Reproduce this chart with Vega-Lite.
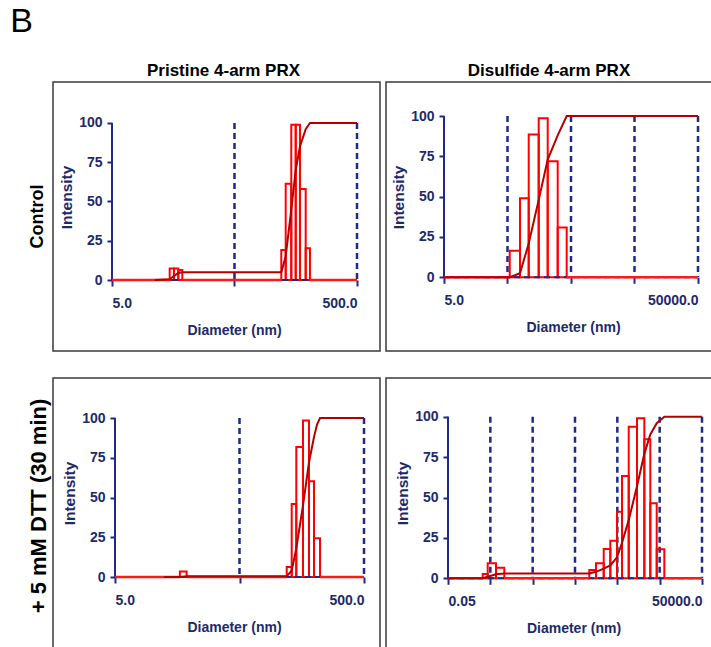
{
  "$schema": "https://vega.github.io/schema/vega-lite/v6.json",
  "background": "white",
  "padding": {"left": 10, "top": 5, "right": 0, "bottom": 0},
  "title": {"text": "B", "anchor": "start", "fontSize": 34, "fontWeight": "normal", "dx": -18, "offset": 22, "color": "black"},
  "config": {
    "font": "Liberation Sans",
    "view": {"stroke": "#3a3a3a", "strokeWidth": 1.5},
    "axis": {"domain": false, "grid": false, "labelFont": "Liberation Sans", "labelFontSize": 14, "labelFontWeight": "bold", "labelColor": "#1c2a6b", "titleFont": "Liberation Sans", "titleFontSize": 14, "titleFontWeight": "bold", "titleColor": "#1c2a6b", "tickColor": "#1d2a8a", "tickWidth": 2},
    "title": {"font": "Liberation Sans", "fontSize": 17, "fontWeight": "bold", "color": "black"}
  },
  "datasets": {
    "grid": [
      {"p": "TL", "x": 50}, {"p": "TL", "x": 500},
      {"p": "TR", "x": 50}, {"p": "TR", "x": 500}, {"p": "TR", "x": 5000}, {"p": "TR", "x": 50000},
      {"p": "BL", "x": 50}, {"p": "BL", "x": 500},
      {"p": "BR", "x": 0.5}, {"p": "BR", "x": 5}, {"p": "BR", "x": 50}, {"p": "BR", "x": 500}, {"p": "BR", "x": 5000}, {"p": "BR", "x": 50000}
    ],
    "frame": [
      {"p": "TL", "x": 5, "xe": 500},
      {"p": "TR", "x": 5, "xe": 50000},
      {"p": "BL", "x": 5, "xe": 500},
      {"p": "BR", "x": 0.05, "xe": 50000}
    ],
    "base": [
      {"p": "TL", "x": 5, "xe": 14.79}, {"p": "TL", "x": 18.75, "xe": 120.5}, {"p": "TL", "x": 206.6, "xe": 500},
      {"p": "TR", "x": 5, "xe": 54.2}, {"p": "TR", "x": 427.7, "xe": 50000},
      {"p": "BL", "x": 5, "xe": 16.6}, {"p": "BL", "x": 18.8, "xe": 119.7}, {"p": "BL", "x": 221.6, "xe": 500},
      {"p": "BR", "x": 0.05, "xe": 0.33}, {"p": "BR", "x": 1.069, "xe": 108.9}, {"p": "BR", "x": 6440, "xe": 50000}
    ],
    "bars": [
      {"p": "TL", "x": 14.79, "xe": 16.03, "y": 7.4},
      {"p": "TL", "x": 16.03, "xe": 17.39, "y": 7.4},
      {"p": "TL", "x": 17.39, "xe": 18.75, "y": 6.4},
      {"p": "TL", "x": 120.5, "xe": 130.9, "y": 19.1},
      {"p": "TL", "x": 130.9, "xe": 145.4, "y": 61.3},
      {"p": "TL", "x": 145.4, "xe": 158.0, "y": 98.9},
      {"p": "TL", "x": 158.0, "xe": 171.2, "y": 98.9},
      {"p": "TL", "x": 171.2, "xe": 190.6, "y": 57.9},
      {"p": "TL", "x": 190.6, "xe": 206.6, "y": 20.2},
      {"p": "TR", "x": 54.2, "xe": 78.7, "y": 16.5},
      {"p": "TR", "x": 78.7, "xe": 107.9, "y": 49.0},
      {"p": "TR", "x": 107.9, "xe": 155.0, "y": 88.6},
      {"p": "TR", "x": 155.0, "xe": 214.9, "y": 98.6},
      {"p": "TR", "x": 214.9, "xe": 308.7, "y": 71.9},
      {"p": "TR", "x": 308.7, "xe": 427.7, "y": 30.8},
      {"p": "BL", "x": 16.6, "xe": 18.8, "y": 3.5},
      {"p": "BL", "x": 119.7, "xe": 131.3, "y": 6.3},
      {"p": "BL", "x": 131.3, "xe": 142.9, "y": 45.9},
      {"p": "BL", "x": 142.9, "xe": 161.8, "y": 81.8},
      {"p": "BL", "x": 161.8, "xe": 180.7, "y": 98.5},
      {"p": "BL", "x": 180.7, "xe": 198.3, "y": 60.3},
      {"p": "BL", "x": 198.3, "xe": 221.6, "y": 24.4},
      {"p": "BR", "x": 0.330, "xe": 0.433, "y": 2.7},
      {"p": "BR", "x": 0.433, "xe": 0.681, "y": 9.3},
      {"p": "BR", "x": 0.681, "xe": 1.069, "y": 6.6},
      {"p": "BR", "x": 108.9, "xe": 156.8, "y": 5.2},
      {"p": "BR", "x": 156.8, "xe": 238.4, "y": 9.3},
      {"p": "BR", "x": 238.4, "xe": 341.4, "y": 18.1},
      {"p": "BR", "x": 341.4, "xe": 491.3, "y": 23.3},
      {"p": "BR", "x": 491.3, "xe": 644.9, "y": 41.2},
      {"p": "BR", "x": 644.9, "xe": 928.4, "y": 63.3},
      {"p": "BR", "x": 928.4, "xe": 1458, "y": 93.8},
      {"p": "BR", "x": 1458, "xe": 2170, "y": 99},
      {"p": "BR", "x": 2170, "xe": 3006, "y": 86},
      {"p": "BR", "x": 3006, "xe": 4259, "y": 46.4},
      {"p": "BR", "x": 4259, "xe": 6440, "y": 17.9}
    ],
    "cum": [
      {"p": "TL", "x": 11.2, "y": 0}, {"p": "TL", "x": 14.8, "y": 0.5}, {"p": "TL", "x": 16.0, "y": 2.5}, {"p": "TL", "x": 17.4, "y": 4.5}, {"p": "TL", "x": 18.75, "y": 5}, {"p": "TL", "x": 120.5, "y": 5}, {"p": "TL", "x": 130.9, "y": 15}, {"p": "TL", "x": 145.4, "y": 45}, {"p": "TL", "x": 158, "y": 70}, {"p": "TL", "x": 171.2, "y": 85}, {"p": "TL", "x": 190.6, "y": 96}, {"p": "TL", "x": 206.6, "y": 100}, {"p": "TL", "x": 500, "y": 100},
      {"p": "TR", "x": 5, "y": 0}, {"p": "TR", "x": 54.2, "y": 0}, {"p": "TR", "x": 78.7, "y": 2.5}, {"p": "TR", "x": 107.9, "y": 21}, {"p": "TR", "x": 155, "y": 48}, {"p": "TR", "x": 214.9, "y": 73}, {"p": "TR", "x": 308.7, "y": 88}, {"p": "TR", "x": 427.7, "y": 100}, {"p": "TR", "x": 50000, "y": 100},
      {"p": "BL", "x": 12.4, "y": 0}, {"p": "BL", "x": 16.6, "y": 0}, {"p": "BL", "x": 18.8, "y": 0.5}, {"p": "BL", "x": 119.7, "y": 0.5}, {"p": "BL", "x": 131.3, "y": 4}, {"p": "BL", "x": 142.9, "y": 18}, {"p": "BL", "x": 161.8, "y": 45}, {"p": "BL", "x": 180.7, "y": 72}, {"p": "BL", "x": 198.3, "y": 88}, {"p": "BL", "x": 210, "y": 96}, {"p": "BL", "x": 221.6, "y": 100}, {"p": "BL", "x": 500, "y": 100},
      {"p": "BR", "x": 0.05, "y": 0}, {"p": "BR", "x": 0.33, "y": 0}, {"p": "BR", "x": 0.433, "y": 1}, {"p": "BR", "x": 0.681, "y": 2.5}, {"p": "BR", "x": 1.069, "y": 3}, {"p": "BR", "x": 108.9, "y": 3}, {"p": "BR", "x": 156.8, "y": 4}, {"p": "BR", "x": 238.4, "y": 6}, {"p": "BR", "x": 341.4, "y": 8}, {"p": "BR", "x": 491.3, "y": 13}, {"p": "BR", "x": 644.9, "y": 22}, {"p": "BR", "x": 928.4, "y": 36}, {"p": "BR", "x": 1458, "y": 57}, {"p": "BR", "x": 2170, "y": 77}, {"p": "BR", "x": 3006, "y": 89}, {"p": "BR", "x": 4259, "y": 96}, {"p": "BR", "x": 6440, "y": 100}, {"p": "BR", "x": 50000, "y": 100}
    ]
  },
  "spacing": 25,
  "vconcat": [
    {
      "title": {"text": "Control", "orient": "left", "anchor": "middle", "offset": 5, "dx": -10, "fontSize": 18},
      "spacing": 4,
      "hconcat": [
        {
          "width": 327, "height": 269,
          "title": {"text": "Pristine 4-arm PRX", "offset": 2, "dx": 7},
          "encoding": {
            "x": {"field": "x", "type": "quantitative", "scale": {"type": "log", "domain": [1.6502, 770.4], "nice": false},
              "axis": {"orient": "bottom", "offset": -71, "values": [5, 50, 500], "labelExpr": "datum.value == 5 ? '5.0' : datum.value == 500 ? '500.0' : ''", "labelFlush": 70, "tickSize": 6, "labelPadding": 10, "title": "Diameter (nm)", "titleX": 181, "titlePadding": 13}}
          },
          "layer": [
            {"data": {"name": "grid"}, "transform": [{"filter": "datum.p == 'TL'"}], "mark": {"type": "rule", "color": "#1d2a8a", "strokeWidth": 2.5, "strokeDash": [6, 4]},
              "encoding": {"y": {"datum": 100, "type": "quantitative", "scale": {"domain": [-45.22, 126.11], "nice": false, "zero": false}, "axis": {"values": [0, 25, 50, 75, 100], "offset": -59, "title": "Intensity", "titleFontSize": 15.5, "titleY": 115, "tickSize": 5, "labelPadding": 5, "titlePadding": 4, "labelFlush": false}}, "y2": {"datum": 0}}},
            {"data": {"name": "frame"}, "transform": [{"filter": "datum.p == 'TL'"}], "mark": {"type": "rule", "color": "#1d2a8a", "strokeWidth": 2}, "encoding": {"y": {"datum": 0, "type": "quantitative"}, "y2": {"datum": 100}}},
            {"data": {"name": "bars"}, "transform": [{"filter": "datum.p == 'TL'"}], "mark": {"type": "rect", "fill": "white", "fillOpacity": 0, "stroke": "#ff0000", "strokeWidth": 2}, "encoding": {"x2": {"field": "xe"}, "y": {"field": "y", "type": "quantitative"}, "y2": {"datum": 0}}},
            {"data": {"name": "frame"}, "transform": [{"filter": "datum.p == 'TL'"}], "mark": {"type": "rule", "color": "#1d2a8a", "strokeWidth": 2, "strokeDash": [6, 4]}, "encoding": {"x2": {"field": "xe"}, "y": {"datum": 0, "type": "quantitative"}}},
            {"data": {"name": "base"}, "transform": [{"filter": "datum.p == 'TL'"}], "mark": {"type": "rule", "color": "#ff1a1a", "strokeWidth": 2.5}, "encoding": {"x2": {"field": "xe"}, "y": {"datum": 0, "type": "quantitative"}}},
            {"data": {"name": "cum"}, "transform": [{"filter": "datum.p == 'TL'"}], "mark": {"type": "line", "color": "#b40000", "strokeWidth": 2}, "encoding": {"y": {"field": "y", "type": "quantitative"}}}
          ]
        },
        {
          "width": 330, "height": 269,
          "title": {"text": "Disulfide 4-arm PRX", "offset": 2, "dx": -2},
          "encoding": {
            "x": {"field": "x", "type": "quantitative", "scale": {"type": "log", "domain": [0.6105, 96030], "nice": false},
              "axis": {"orient": "bottom", "offset": -73.7, "values": [5, 50, 500, 5000, 50000], "labelExpr": "datum.value == 5 ? '5.0' : datum.value == 50000 ? '50000.0' : ''", "labelFlush": 70, "tickSize": 6, "labelPadding": 10, "title": "Diameter (nm)", "titleX": 187, "titlePadding": 13}}
          },
          "layer": [
            {"data": {"name": "grid"}, "transform": [{"filter": "datum.p == 'TR'"}], "mark": {"type": "rule", "color": "#1d2a8a", "strokeWidth": 2.5, "strokeDash": [6, 4]},
              "encoding": {"y": {"datum": 100, "type": "quantitative", "scale": {"domain": [-45.69, 121.08], "nice": false, "zero": false}, "axis": {"values": [0, 25, 50, 75, 100], "offset": -58, "title": "Intensity", "titleFontSize": 15.5, "titleY": 115, "tickSize": 5, "labelPadding": 5, "titlePadding": 4, "labelFlush": false}}, "y2": {"datum": 0}}},
            {"data": {"name": "frame"}, "transform": [{"filter": "datum.p == 'TR'"}], "mark": {"type": "rule", "color": "#1d2a8a", "strokeWidth": 2}, "encoding": {"y": {"datum": 0, "type": "quantitative"}, "y2": {"datum": 100}}},
            {"data": {"name": "bars"}, "transform": [{"filter": "datum.p == 'TR'"}], "mark": {"type": "rect", "fill": "white", "fillOpacity": 0, "stroke": "#ff0000", "strokeWidth": 2}, "encoding": {"x2": {"field": "xe"}, "y": {"field": "y", "type": "quantitative"}, "y2": {"datum": 0}}},
            {"data": {"name": "frame"}, "transform": [{"filter": "datum.p == 'TR'"}], "mark": {"type": "rule", "color": "#1d2a8a", "strokeWidth": 2, "strokeDash": [6, 4]}, "encoding": {"x2": {"field": "xe"}, "y": {"datum": 0, "type": "quantitative"}}},
            {"data": {"name": "base"}, "transform": [{"filter": "datum.p == 'TR'"}], "mark": {"type": "rule", "color": "#ff1a1a", "strokeWidth": 2.5}, "encoding": {"x2": {"field": "xe"}, "y": {"datum": 0, "type": "quantitative"}}},
            {"data": {"name": "cum"}, "transform": [{"filter": "datum.p == 'TR'"}], "mark": {"type": "line", "color": "#b40000", "strokeWidth": 2}, "encoding": {"y": {"field": "y", "type": "quantitative"}}}
          ]
        }
      ]
    },
    {
      "title": {"text": "+ 5 mM DTT (30 min)", "orient": "left", "anchor": "middle", "offset": 1, "dx": 8, "fontSize": 22},
      "spacing": 4,
      "hconcat": [
        {
          "width": 327, "height": 272,
          "encoding": {
            "x": {"field": "x", "type": "quantitative", "scale": {"type": "log", "domain": [1.5882, 672.1], "nice": false},
              "axis": {"orient": "bottom", "offset": -73, "values": [5, 50, 500], "labelExpr": "datum.value == 5 ? '5.0' : datum.value == 500 ? '500.0' : ''", "labelFlush": 70, "tickSize": 6, "labelPadding": 10, "title": "Diameter (nm)", "titleX": 181, "titlePadding": 13}}
          },
          "layer": [
            {"data": {"name": "grid"}, "transform": [{"filter": "datum.p == 'BL'"}], "mark": {"type": "rule", "color": "#1d2a8a", "strokeWidth": 2.5, "strokeDash": [6, 4]},
              "encoding": {"y": {"datum": 100, "type": "quantitative", "scale": {"domain": [-45.91, 125.16], "nice": false, "zero": false}, "axis": {"values": [0, 25, 50, 75, 100], "offset": -62, "title": "Intensity", "titleFontSize": 15.5, "titleY": 115, "tickSize": 5, "labelPadding": 5, "titlePadding": 4, "labelFlush": false}}, "y2": {"datum": 0}}},
            {"data": {"name": "frame"}, "transform": [{"filter": "datum.p == 'BL'"}], "mark": {"type": "rule", "color": "#1d2a8a", "strokeWidth": 2}, "encoding": {"y": {"datum": 0, "type": "quantitative"}, "y2": {"datum": 100}}},
            {"data": {"name": "bars"}, "transform": [{"filter": "datum.p == 'BL'"}], "mark": {"type": "rect", "fill": "white", "fillOpacity": 0, "stroke": "#ff0000", "strokeWidth": 2}, "encoding": {"x2": {"field": "xe"}, "y": {"field": "y", "type": "quantitative"}, "y2": {"datum": 0}}},
            {"data": {"name": "frame"}, "transform": [{"filter": "datum.p == 'BL'"}], "mark": {"type": "rule", "color": "#1d2a8a", "strokeWidth": 2, "strokeDash": [6, 4]}, "encoding": {"x2": {"field": "xe"}, "y": {"datum": 0, "type": "quantitative"}}},
            {"data": {"name": "base"}, "transform": [{"filter": "datum.p == 'BL'"}], "mark": {"type": "rule", "color": "#ff1a1a", "strokeWidth": 2.5}, "encoding": {"x2": {"field": "xe"}, "y": {"datum": 0, "type": "quantitative"}}},
            {"data": {"name": "cum"}, "transform": [{"filter": "datum.p == 'BL'"}], "mark": {"type": "line", "color": "#b40000", "strokeWidth": 2}, "encoding": {"y": {"field": "y", "type": "quantitative"}}}
          ]
        },
        {
          "width": 330, "height": 272,
          "encoding": {
            "x": {"field": "x", "type": "quantitative", "scale": {"type": "log", "domain": [0.001715, 107080], "nice": false},
              "axis": {"orient": "bottom", "offset": -71.7, "values": [0.05, 0.5, 5, 50, 500, 5000, 50000], "labelExpr": "datum.value == 0.05 ? '0.05' : datum.value == 50000 ? '50000.0' : ''", "labelFlush": 70, "tickSize": 6, "labelPadding": 10, "title": "Diameter (nm)", "titleX": 187.5, "titlePadding": 13}}
          },
          "layer": [
            {"data": {"name": "grid"}, "transform": [{"filter": "datum.p == 'BR'"}], "mark": {"type": "rule", "color": "#1d2a8a", "strokeWidth": 2.5, "strokeDash": [6, 4]},
              "encoding": {"y": {"datum": 100, "type": "quantitative", "scale": {"domain": [-44.37, 123.95], "nice": false, "zero": false}, "axis": {"values": [0, 25, 50, 75, 100], "offset": -62, "title": "Intensity", "titleFontSize": 15.5, "titleY": 115, "tickSize": 5, "labelPadding": 5, "titlePadding": 4, "labelFlush": false}}, "y2": {"datum": 0}}},
            {"data": {"name": "frame"}, "transform": [{"filter": "datum.p == 'BR'"}], "mark": {"type": "rule", "color": "#1d2a8a", "strokeWidth": 2}, "encoding": {"y": {"datum": 0, "type": "quantitative"}, "y2": {"datum": 100}}},
            {"data": {"name": "bars"}, "transform": [{"filter": "datum.p == 'BR'"}], "mark": {"type": "rect", "fill": "white", "fillOpacity": 0, "stroke": "#ff0000", "strokeWidth": 2}, "encoding": {"x2": {"field": "xe"}, "y": {"field": "y", "type": "quantitative"}, "y2": {"datum": 0}}},
            {"data": {"name": "frame"}, "transform": [{"filter": "datum.p == 'BR'"}], "mark": {"type": "rule", "color": "#1d2a8a", "strokeWidth": 2, "strokeDash": [6, 4]}, "encoding": {"x2": {"field": "xe"}, "y": {"datum": 0, "type": "quantitative"}}},
            {"data": {"name": "base"}, "transform": [{"filter": "datum.p == 'BR'"}], "mark": {"type": "rule", "color": "#ff1a1a", "strokeWidth": 2.5}, "encoding": {"x2": {"field": "xe"}, "y": {"datum": 0, "type": "quantitative"}}},
            {"data": {"name": "cum"}, "transform": [{"filter": "datum.p == 'BR'"}], "mark": {"type": "line", "color": "#b40000", "strokeWidth": 2}, "encoding": {"y": {"field": "y", "type": "quantitative"}}}
          ]
        }
      ]
    }
  ]
}
